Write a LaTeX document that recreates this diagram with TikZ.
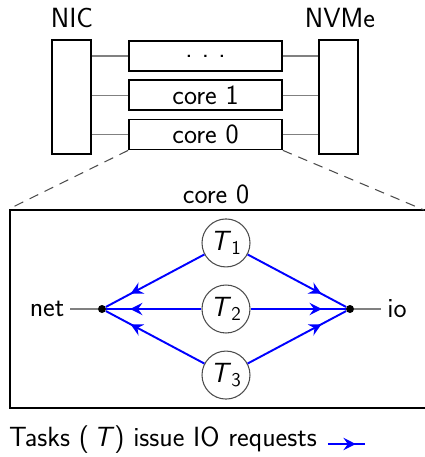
\documentclass[tikz,border=0pt]{standalone}
\usepackage{tikz}
\usetikzlibrary{arrows.meta,positioning,decorations.markings}
\renewcommand{\familydefault}{\sfdefault}
\newcommand{\task}[1]{\textit{T}\textsubscript{#1}}

\begin{document}
\begin{tikzpicture}[
  font=\fontsize{15.8}{18}\selectfont\sffamily,
  dev/.style={rectangle,draw,line width=1pt,minimum width=0.78cm,
              minimum height=2.28cm,inner sep=0pt},
  core/.style={rectangle,draw,line width=1pt,minimum width=3.06cm,
               minimum height=0.6cm,inner sep=0pt},
  task/.style={circle,draw=black!70,line width=0.6pt,minimum size=0.96cm,inner sep=0pt},
  hub/.style={circle,fill=black,minimum size=0.16cm,inner sep=0pt},
  wire/.style={gray,line width=0.7pt},
  zoomln/.style={black!70,line width=0.6pt,dash pattern=on 5.5pt off 4pt},
  req/.style={blue,line width=1.1pt,postaction={decorate},
              decoration={markings,mark=at position 0.75 with
                {\arrow{Stealth[length=7pt,width=7pt,inset=2.5pt]}}}}
]
  \useasboundingbox (0,0) rectangle (8.5,-9.14);

  % devices and cores
  \node[dev] (nic)  at (1.43,-1.94) {};
  \node[dev] (nvme) at (6.77,-1.94) {};
  \node (niclbl)  at (1.44,-0.36) {NIC};
  \node (nvmelbl) at (6.8,-0.36)  {NVMe};

  \node[core] (c0) at (4.11,-2.69) {core 0};
  \node[core,above=0.15cm of c0] (c1)    {core 1};
  \node[core,above=0.15cm of c1] (cdots) {.\,\,.\,\,.};

  \foreach \c in {cdots,c1,c0} {
    \draw[wire] (nic.east |- \c.west) -- (\c.west);
    \draw[wire] (\c.east) -- (nvme.west |- \c.east);
  }

  % zoomed core
  \node[draw,line width=1.2pt,minimum width=8.5cm,minimum height=3.96cm,
        inner sep=0pt] (zoom) at (4.45,-6.18) {};
  \node (zlbl) at (4.32,-3.88) {core 0};
  \draw[zoomln] (c0.south west) -- (zoom.north west);
  \draw[zoomln] (c0.south east) -- (8.48,-4.2);

  \node[task] (t2) at (4.52,-6.18) {\task{2}};
  \node[task,above=0.34cm of t2] (t1) {\task{1}};
  \node[task,below=0.34cm of t2] (t3) {\task{3}};

  \node[hub] (net) at (2.04,-6.18) {};
  \node[hub] (io)  at (7.0,-6.18)  {};
  \node (netlbl) at (0.94,-6.18) {net};
  \node (iolbl)  at (7.94,-6.18) {io};
  \draw[wire] (netlbl) -- (net);
  \draw[wire] (io) -- (iolbl);

  \foreach \t in {t1,t2,t3} {
    \draw[req] (\t) -- (net);
    \draw[req] (\t) -- (io);
  }

  % legend
  \node[anchor=west] (legend) at (0.06,-8.8) {Tasks (\,\textit{T}\/) issue IO requests};
  \coordinate (la) at (6.56,-8.88);
  \coordinate (lb) at (7.3,-8.88);
  \draw[req] (la) -- (lb);
\end{tikzpicture}
\end{document}
